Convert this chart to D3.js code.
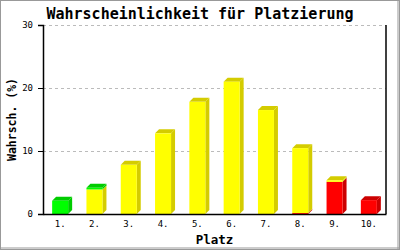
<!DOCTYPE html>
<html>
<head>
<meta charset="utf-8">
<script src="https://cdn.jsdelivr.net/npm/d3@7"></script>
<style>
  body { margin: 0; background: #fff; }
  text { font-family: "DejaVu Sans Mono", monospace; }
</style>
</head>
<body>
<div id="chart"></div>
<script>
const places = ["1.", "2.", "3.", "4.", "5.", "6.", "7.", "8.", "9.", "10."];
const red    = [0, 0, 0, 0, 0, 0, 0, 0.15, 5.1, 2.2];
const yellow = [0, 3.9, 7.8, 12.8, 17.8, 21.0, 16.5, 10.3, 0.25, 0];
const green  = [2.1, 0.25, 0, 0, 0, 0, 0, 0, 0, 0];
const yTicks = [0, 10, 20, 30];

const series = [
  { name: "red", values: red, front: "#ff0000", shade: "#cc0000" },
  { name: "yellow", values: yellow, front: "#ffff00", shade: "#d4cc00" },
  { name: "green", values: green, front: "#00ff00", shade: "#00cc00" }
];

const W = 400, H = 250;
const m = { left: 43, right: 14, top: 25, bottom: 36 };
const depth = 4;
const barW = 16;

const svg = d3.select("#chart").append("svg")
    .attr("width", W).attr("height", H);

svg.append("rect")
    .attr("x", 0.5).attr("y", 0.5).attr("width", W - 1).attr("height", H - 1)
    .attr("fill", "#fff").attr("stroke", "#999").attr("stroke-width", 1);
svg.append("line").attr("x1", W - 2).attr("x2", W - 2).attr("y1", 1).attr("y2", H - 1)
    .attr("stroke", "#999");
svg.append("line").attr("x1", 1).attr("x2", W - 1).attr("y1", H - 2).attr("y2", H - 2)
    .attr("stroke", "#999");

var x = d3.scaleBand().domain(places).range([m.left, W - m.right]);
var y = d3.scaleLinear().domain([0, 30]).range([H - m.bottom, m.top]);

// grid
svg.append("g")
  .selectAll("line")
  .data(yTicks.filter(d => d > 0))
  .join("line")
    .attr("x1", m.left).attr("x2", W - m.right)
    .attr("y1", d => Math.round(y(d)) + 0.5).attr("y2", d => Math.round(y(d)) + 0.5)
    .attr("stroke", "#bbb")
    .attr("stroke-dasharray", "3,3");

// stacked 3d bars
const stack = d3.stack().keys(series.map(s => s.name))
  (places.map((p, i) => ({ place: p, red: red[i], yellow: yellow[i], green: green[i] })));

stack.forEach((layer, k) => {
  const s = series[k];
  const g = svg.append("g");
  layer.forEach((d, i) => {
    if (d[1] - d[0] <= 0) return;
    const x0 = x(d.data.place) + x.bandwidth() / 2 - barW / 2;
    const x1 = x0 + barW;
    const yb = y(d[0]), yt = y(d[1]);
    // side face
    g.append("path")
      .attr("d", d3.line()([[x1, yb], [x1 + depth, yb - depth], [x1 + depth, yt - depth], [x1, yt]]))
      .attr("fill", s.shade);
    // top face only on the highest segment
    const total = red[i] + yellow[i] + green[i];
    if (Math.abs(d[1] - total) < 1e-9) {
      g.append("path")
        .attr("d", d3.line()([[x0, yt], [x0 + depth, yt - depth], [x1 + depth, yt - depth], [x1, yt]]))
        .attr("fill", s.shade);
    }
    g.append("rect")
      .attr("x", x0).attr("y", yt)
      .attr("width", barW).attr("height", yb - yt)
      .attr("fill", s.front);
  });
});

// axes
const yAxis = svg.append("g")
    .attr("transform", `translate(${m.left},0)`)
    .call(d3.axisLeft(y).tickValues(yTicks).tickSize(5).tickPadding(5));
yAxis.select(".domain").attr("stroke", "#000").attr("stroke-width", 1.5);
yAxis.selectAll("text").attr("font-size", 9).attr("fill", "#000")
    .style("font-family", "DejaVu Sans Mono");

const xAxis = svg.append("g")
    .attr("transform", `translate(0,${H - m.bottom})`)
    .call(d3.axisBottom(x).tickSize(0).tickPadding(7));
xAxis.select(".domain").attr("stroke", "#000").attr("stroke-width", 1.5);
xAxis.selectAll("text").attr("font-size", 9).attr("fill", "#000")
    .style("font-family", "DejaVu Sans Mono");

// right frame line
svg.append("line")
    .attr("x1", W - m.right).attr("x2", W - m.right)
    .attr("y1", m.top).attr("y2", H - m.bottom)
    .attr("stroke", "#000").attr("stroke-width", 1.5);

// titles
svg.append("text")
    .attr("x", 200).attr("y", 19)
    .attr("text-anchor", "middle")
    .attr("font-size", 15).attr("font-weight", "bold")
    .text("Wahrscheinlichkeit für Platzierung");

svg.append("text")
    .attr("x", (m.left + W - m.right) / 2).attr("y", 244)
    .attr("text-anchor", "middle")
    .attr("font-size", 12.5).attr("font-weight", "bold")
    .text("Platz");

svg.append("text")
    .attr("transform", `translate(16,${(m.top + H - m.bottom) / 2}) rotate(-90)`)
    .attr("text-anchor", "middle")
    .attr("font-size", 11.5).attr("font-weight", "bold")
    .text("Wahrsch. (%)");
</script>
</body>
</html>
